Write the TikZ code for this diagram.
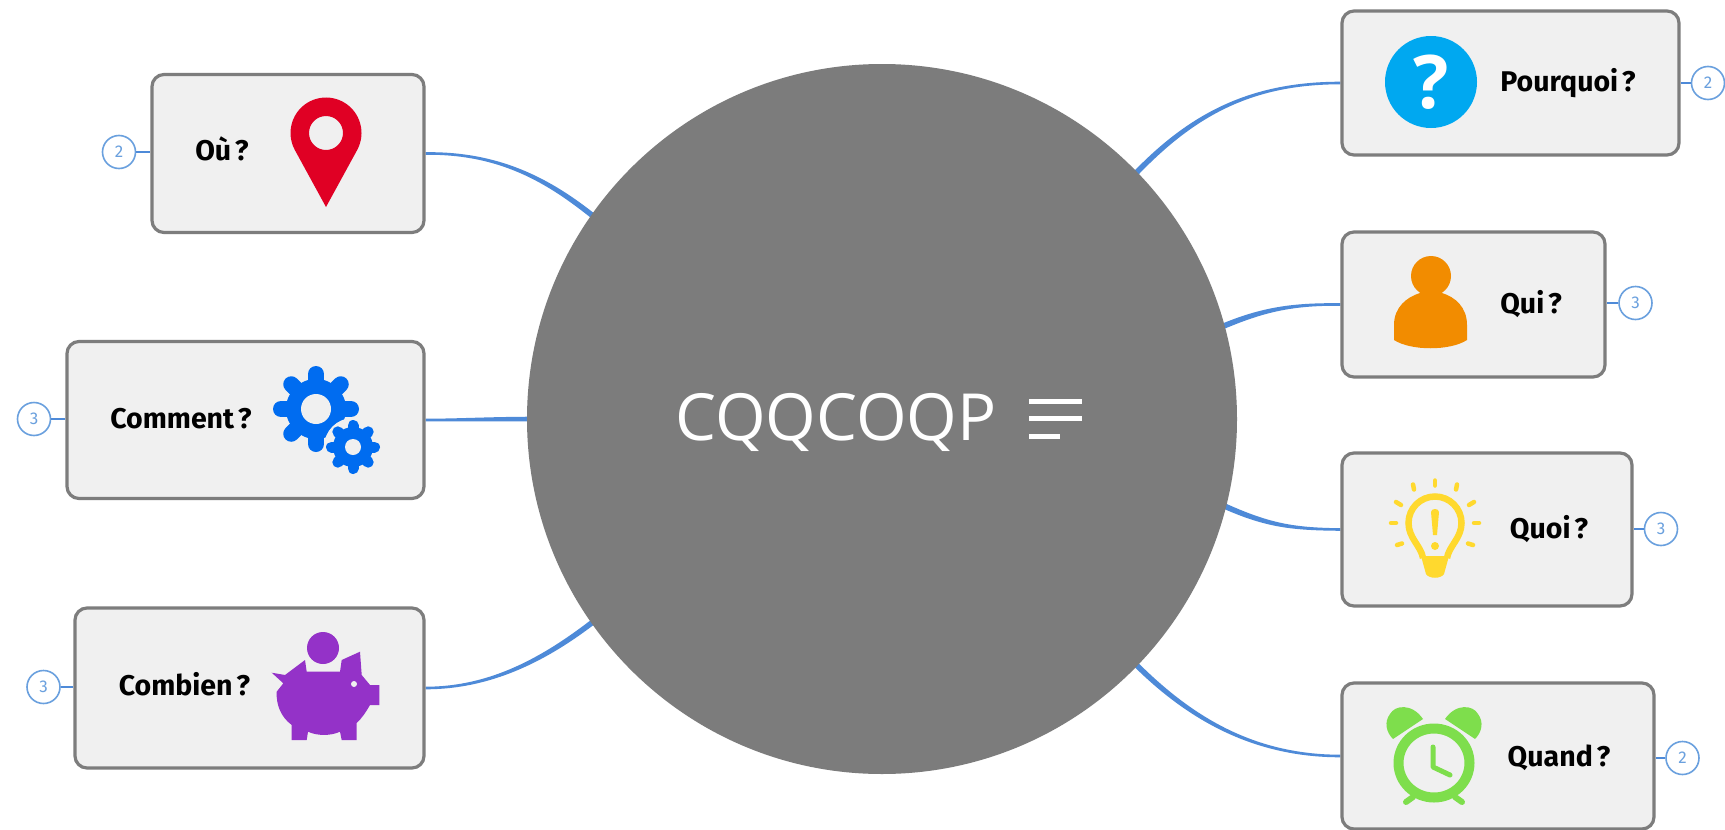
\documentclass[tikz,border=0pt]{standalone}
\usepackage{fontspec}
\setmainfont[WordSpace=0.55]{Fira Sans}
\newfontfamily\titlefont{Open Sans}
\newfontfamily\qfont{Open Sans}
\usetikzlibrary{calc,backgrounds}
\definecolor{hubgray}{RGB}{124,124,124}
\definecolor{boxfill}{RGB}{240,240,240}
\definecolor{boxline}{RGB}{125,125,125}
\definecolor{connblue}{RGB}{78,138,216}
\definecolor{badgeblue}{RGB}{106,160,222}
\definecolor{pinred}{RGB}{224,0,36}
\definecolor{gearblue}{RGB}{0,108,240}
\definecolor{pigpurple}{RGB}{148,50,200}
\definecolor{qblue}{RGB}{0,168,240}
\definecolor{manorange}{RGB}{242,140,0}
\definecolor{bulbyellow}{RGB}{255,217,46}
\definecolor{clockgreen}{RGB}{126,222,76}
\tikzset{
  hubnode/.style={circle,fill=hubgray,minimum size=710pt,inner sep=0pt},
  topic/.style={draw=boxline,fill=boxfill,line width=3.2pt,rounded corners=12pt,inner sep=0pt},
  toplabel/.style={anchor=base,inner sep=0pt,font=\fontsize{28.5}{28.5}\selectfont\bfseries,text=black},
  badge/.style={circle,draw=badgeblue,fill=white,line width=1.6pt,minimum size=33pt,inner sep=0pt,text=badgeblue,font=\fontsize{17}{17}\selectfont},
  stub/.style={draw=connblue,line width=2pt},
  conn/.style={fill=connblue},
  titletext/.style={anchor=base,inner sep=0pt,text=white,font=\titlefont\fontsize{65}{65}\selectfont},
  menuline/.style={draw=white,line width=5pt}
}
% start, control 1, control 2, end, half-width offset at the end
\newcommand\conn[5]{%
  \path[conn] ($(#1)+(0,-1.3)$) .. controls ($(#2)+(0,-1.3)$) and ($(#3)+(#5)$) .. ($(#4)+(#5)$)
    -- ($(#4)-(#5)$) .. controls ($(#3)-(#5)$) and ($(#2)+(0,1.3)$) .. ($(#1)+(0,1.3)$) -- cycle;}
\newcommand\gearicon[6]{% x y body tooth-radius tooth-width hole
  \foreach \a in {0,45,...,315}{%
    \draw[gearblue,line width=#5 pt,line cap=round] (#1,#2) -- ++(\a:#4);}
  \fill[gearblue] (#1,#2) circle[radius=#3];
  \fill[boxfill] (#1,#2) circle[radius=#6];}
\begin{document}
\begin{tikzpicture}[x=1pt,y=-1pt]
\useasboundingbox (0,0) rectangle (1725,830);
\begin{pgfonlayer}{background}
\fill[white] (0,0) rectangle (1725,830);
\end{pgfonlayer}
\node[hubnode] (hub) at (882,419) {};
\node[titletext] (title) at (836,440) {CQQCOQP};
\coordinate (m1a) at (1029,401); \coordinate (m1b) at (1082,401);
\coordinate (m2a) at (1029,418); \coordinate (m2b) at (1082,418);
\coordinate (m3a) at (1029,436); \coordinate (m3b) at (1060,436);
\draw[menuline] (m1a) -- (m1b);
\draw[menuline] (m2a) -- (m2b);
\draw[menuline] (m3a) -- (m3b);
% topic boxes
\node[topic,minimum width=272pt,minimum height=158pt] (ou) at (288,153.5) {};
\node[topic,minimum width=357pt,minimum height=157pt] (comment) at (245.5,420) {};
\node[topic,minimum width=349pt,minimum height=160pt] (combien) at (249.5,688) {};
\node[topic,minimum width=337pt,minimum height=144pt] (pourquoi) at (1510.5,83) {};
\node[topic,minimum width=263pt,minimum height=145pt] (qui) at (1473.5,304.5) {};
\node[topic,minimum width=290pt,minimum height=153pt] (quoi) at (1487,529.5) {};
\node[topic,minimum width=312pt,minimum height=146pt] (quand) at (1498,756) {};
% labels
\node[toplabel] (louou) at (222,160) {Où ?};
\node[toplabel] (lcomment) at (181,428) {Comment ?};
\node[toplabel] (lcombien) at (184.5,695) {Combien ?};
\node[toplabel] (lpourquoi) at (1568,91) {Pourquoi ?};
\node[toplabel] (lqui) at (1531,313) {Qui ?};
\node[toplabel] (lquoi) at (1549,538) {Quoi ?};
\node[toplabel] (lquand) at (1559,766) {Quand ?};
% badges
\node[badge] (bou) at (119,152) {2};
\node[badge] (bcomment) at (34,419) {3};
\node[badge] (bcombien) at (43.5,687) {3};
\node[badge] (bpourquoi) at (1708,83) {2};
\node[badge] (bqui) at (1635.5,303) {3};
\node[badge] (bquoi) at (1661,529) {3};
\node[badge] (bquand) at (1682.5,758) {2};
\draw[stub] (bou) -- (ou.west |- bou);
\draw[stub] (bcomment) -- (comment.west |- bcomment);
\draw[stub] (bcombien) -- (combien.west |- bcombien);
\draw[stub] (bpourquoi) -- (pourquoi.east |- bpourquoi);
\draw[stub] (bqui) -- (qui.east |- bqui);
\draw[stub] (bquoi) -- (quoi.east |- bquoi);
\draw[stub] (bquand) -- (quand.east |- bquand);
% connectors
\coordinate (eou) at ($(hub.center)!0.97!(hub.145)$);
\coordinate (ecomment) at ($(hub.center)!0.97!(hub.180)$);
\coordinate (ecombien) at ($(hub.center)!0.97!(hub.215)$);
\coordinate (epourquoi) at ($(hub.center)!0.97!(hub.44)$);
\coordinate (equi) at ($(hub.center)!0.97!(hub.15)$);
\coordinate (equoi) at ($(hub.center)!0.97!(hub.-14.5)$);
\coordinate (equand) at ($(hub.center)!0.97!(hub.-44)$);
\begin{pgfonlayer}{background}
\conn{ou.east}{505,152.5}{555,185}{eou}{1.7,-2.2}
\conn{comment.east}{460,420}{490,419}{ecomment}{0,-2.3}
\conn{combien.east}{490,688}{545,660}{ecombien}{-1.7,-2.2}
\conn{pourquoi.west}{1250,83}{1190,115}{epourquoi}{-2,-1.9}
\conn{qui.west}{1290,304}{1260,310}{equi}{-1.1,-2.6}
\conn{quoi.west}{1290,529}{1265,525}{equoi}{1.1,-2.6}
\conn{quand.west}{1250,756}{1185,715}{equand}{2,-1.9}
\end{pgfonlayer}
% pin icon
\fill[pinred,even odd rule] (326,207) -- ($(326,133)+(28.7:35.5)$) arc[start angle=28.7,end angle=-208.7,radius=35.5] -- cycle (326,133) circle[radius=17];
% gears icon
\gearicon{316}{409}{30}{35}{16}{15}
\fill[boxfill] (353,447) circle[radius=29];
\gearicon{353}{447}{20}{21.5}{11}{8}
% piggy icon
\fill[pigpurple] (323,648) circle[radius=16];
\fill[pigpurple] (271.7,672.7) -- (285,675) -- (305,660) -- (306.7,671.7) -- (340,671.7) -- (341.7,660) -- (360,651.7) -- (361.7,675) -- (370,685) -- (379.3,685) -- (379.3,705) -- (370,705)
  .. controls (366,712) and (362,718) .. (356.7,723) -- (356.7,740) -- (341.7,740) -- (340,731.7)
  .. controls (331,736) and (317,736) .. (308,731.7) -- (306.7,740) -- (291.7,740) -- (291.7,725)
  .. controls (281,717) and (276,705) .. (276.7,691.7) -- (283.3,683.3) -- cycle;
\fill[boxfill] (354,684) circle[radius=3];
% question icon
\fill[qblue] (1431,82) circle[radius=46];
\node[inner sep=0pt,anchor=base,text=white,font=\qfont\bfseries\fontsize{74}{74}\selectfont] (qmark) at (1431,108) {?};
% person icon
\fill[manorange] (1431,276) circle[radius=20];
\fill[manorange] (1394,340) -- (1394,325) .. controls (1394,307) and (1407,297) .. (1420,293) -- (1442,293) .. controls (1455,297) and (1467,307) .. (1467,325) -- (1467,340) .. controls (1450,351) and (1411,351) .. (1394,340) -- cycle;
% bulb icon
\draw[bulbyellow,line width=6.5pt] (1423,558) .. controls (1421,546) and (1408.5,538) .. (1408.5,523) arc[start angle=180,end angle=360,radius=26.5] .. controls (1461.5,538) and (1449,546) .. (1447,558);
\fill[bulbyellow] (1421,556) -- (1449,556) -- (1444,574) .. controls (1441,579) and (1429,579) .. (1426,574) -- cycle;
\fill[bulbyellow] (1431,512) .. controls (1431,508) and (1439,508) .. (1439,512) -- (1437,535) -- (1433,535) -- cycle;
\fill[bulbyellow] (1435,546) circle[radius=4];
\foreach \ax/\ay/\bx/\by in {1413/484.5/1414/489.5, 1435/480.5/1435/485.5, 1457/484.5/1456/489.5, 1396/502/1401/505, 1474/502/1469/505, 1391/523/1396/523, 1479/523/1474/523, 1397/545/1402/543.5, 1473/545/1468/543.5}
  \draw[bulbyellow,line width=4.5pt,line cap=round] (\ax,\ay) -- (\bx,\by);
% clock icon
\draw[clockgreen,line width=10pt] (1434,763) ellipse[x radius=35.5,y radius=34.5];
\fill[clockgreen] (1423,719) .. controls (1412,703) and (1395,705) .. (1390,714) .. controls (1384,722) and (1386,732) .. (1393,739) -- cycle;
\fill[clockgreen] (1445,719) .. controls (1456,703) and (1473,705) .. (1478,714) .. controls (1484,722) and (1482,732) .. (1475,739) -- cycle;
\draw[clockgreen,line width=5pt,line cap=round,line join=round] (1433,747) -- (1433,767) -- (1450,775);
\draw[clockgreen,line width=6pt,line cap=round] (1406,802) -- (1413,797);
\draw[clockgreen,line width=6pt,line cap=round] (1462,802) -- (1455,797);
\end{tikzpicture}
\end{document}
